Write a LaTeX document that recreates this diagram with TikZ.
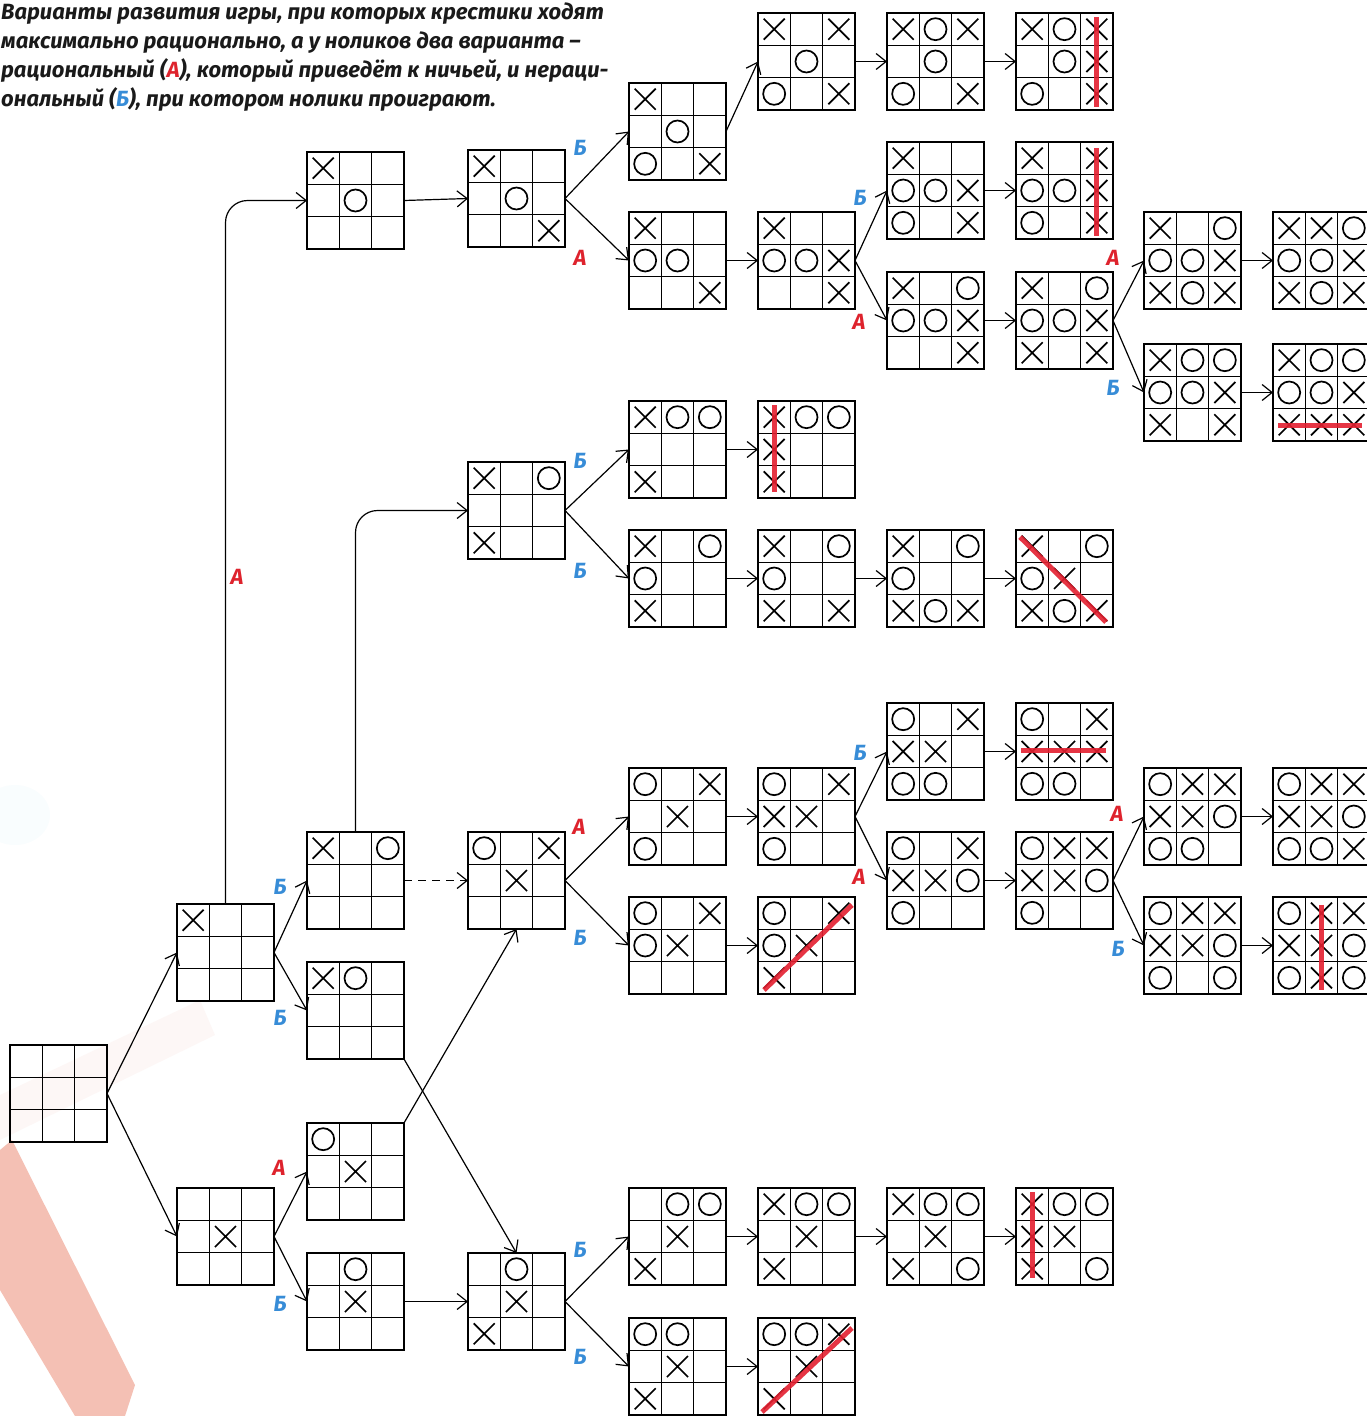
\documentclass[tikz,border=0pt]{standalone}
\usepackage{fontspec}
\setmainfont{Fira Sans}
\usetikzlibrary{arrows.meta}
\definecolor{lblred}{RGB}{222,35,45}
\definecolor{lblblue}{RGB}{55,140,215}
\definecolor{winred}{RGB}{228,32,48}
\definecolor{ghost}{RGB}{238,150,130}
\definecolor{txt}{RGB}{26,26,26}
\def\symX{X}
\def\symO{O}
\tikzset{
  bnode/.style={draw=black, line width=1.4pt, minimum width=97pt, minimum height=97pt, inner sep=0pt, outer sep=0pt},
  gridln/.style={line width=1.3pt},
  sym/.style={line width=1.7pt},
  arr/.style={line width=1.2pt, -{Straight Barb[length=10pt,width=16pt]}},
  lab/.style={font=\bfseries\itshape\fontsize{22}{22}\selectfont, inner sep=0pt},
  labA/.style={lab, text=lblred},
  labB/.style={lab, text=lblblue},
  win/.style={line width=5pt, draw=winred, opacity=0.9}
}
\newcommand\tttboard[4]{%
  \node[bnode] (#1) at ({#2+48.5},{#3+48.5}) {};
  \draw[gridln] ({#2+32.33},#3) -- ({#2+32.33},{#3+97}) ({#2+64.67},#3) -- ({#2+64.67},{#3+97})
     (#2,{#3+32.33}) -- ({#2+97},{#3+32.33}) (#2,{#3+64.67}) -- ({#2+97},{#3+64.67});
  \foreach \sy [count=\bi from 0] in {#4} {
    \pgfmathtruncatemacro\brow{int(\bi/3)}
    \pgfmathtruncatemacro\bcol{mod(\bi,3)}
    \pgfmathsetmacro\bcx{#2+16.17+32.33*\bcol}
    \pgfmathsetmacro\bcy{#3+16.17+32.33*\brow}
    \ifx\sy\symX \draw[sym] (\bcx-10.5,\bcy-10.5) -- (\bcx+10.5,\bcy+10.5) (\bcx-10.5,\bcy+10.5) -- (\bcx+10.5,\bcy-10.5); \fi
    \ifx\sy\symO \draw[sym] (\bcx,\bcy) circle[radius=11]; \fi
  }%
}
\begin{document}
\begin{tikzpicture}[x=1pt,y=-1pt]
\useasboundingbox (0,0) rectangle (1366,1416);
\fill[white] (0,0) rectangle (1366,1416);
% faint background decoration
\fill[ghost, opacity=0.07] (0,1095) -- (200,1000) -- (215,1035) -- (0,1140) -- cycle;
\fill[ghost, opacity=0.6] (0,1150) -- (12,1140) -- (135,1385) -- (125,1416) -- (75,1416) -- (0,1290) -- cycle;
\fill[cyan, opacity=0.025] (15,815) ellipse[x radius=35, y radius=30];

% caption
\node[anchor=north west, align=left, inner sep=0pt, text=txt,
      font=\bfseries\itshape\fontsize{22}{29}\selectfont] (title) at (1,3)
 {Варианты развития игры, при которых крестики ходят\\
  максимально рационально, а у ноликов два варианта –\\
  рациональный (\textcolor{lblred}{А}), который приведёт к ничьей, и нераци-\\
  ональный (\textcolor{lblblue}{Б}), при котором нолики проиграют.};

% boards
\tttboard{E}{10}{1045}{-,-,-,-,-,-,-,-,-}
\tttboard{B1}{177}{904}{X,-,-,-,-,-,-,-,-}
\tttboard{B2}{177}{1188}{-,-,-,-,X,-,-,-,-}
\tttboard{C1}{307}{152}{X,-,-,-,O,-,-,-,-}
\tttboard{C2}{307}{832}{X,-,O,-,-,-,-,-,-}
\tttboard{C3}{307}{962}{X,O,-,-,-,-,-,-,-}
\tttboard{C4}{307}{1123}{O,-,-,-,X,-,-,-,-}
\tttboard{C5}{307}{1253}{-,O,-,-,X,-,-,-,-}
\tttboard{D1}{468}{150}{X,-,-,-,O,-,-,-,X}
\tttboard{D2}{468}{462}{X,-,O,-,-,-,X,-,-}
\tttboard{D3}{468}{832}{O,-,X,-,X,-,-,-,-}
\tttboard{D4}{468}{1253}{-,O,-,-,X,-,X,-,-}
\tttboard{E1}{629}{83}{X,-,-,-,O,-,O,-,X}
\tttboard{E2}{629}{212}{X,-,-,O,O,-,-,-,X}
\tttboard{E3}{629}{401}{X,O,O,-,-,-,X,-,-}
\tttboard{E4}{629}{530}{X,-,O,O,-,-,X,-,-}
\tttboard{E5}{629}{768}{O,-,X,-,X,-,O,-,-}
\tttboard{E6}{629}{897}{O,-,X,O,X,-,-,-,-}
\tttboard{E7}{629}{1188}{-,O,O,-,X,-,X,-,-}
\tttboard{E8}{629}{1318}{O,O,-,-,X,-,X,-,-}
\tttboard{F1}{758}{13}{X,-,X,-,O,-,O,-,X}
\tttboard{F2}{758}{212}{X,-,-,O,O,X,-,-,X}
\tttboard{F3}{758}{401}{X,O,O,X,-,-,X,-,-}
\tttboard{F4}{758}{530}{X,-,O,O,-,-,X,-,X}
\tttboard{F5}{758}{768}{O,-,X,X,X,-,O,-,-}
\tttboard{F6}{758}{897}{O,-,X,O,X,-,X,-,-}
\tttboard{F7}{758}{1188}{X,O,O,-,X,-,X,-,-}
\tttboard{F8}{758}{1318}{O,O,X,-,X,-,X,-,-}
\tttboard{G1}{887}{13}{X,O,X,-,O,-,O,-,X}
\tttboard{G2}{887}{142}{X,-,-,O,O,X,O,-,X}
\tttboard{G3}{887}{272}{X,-,O,O,O,X,-,-,X}
\tttboard{G4}{887}{530}{X,-,O,O,-,-,X,O,X}
\tttboard{G5}{887}{703}{O,-,X,X,X,-,O,O,-}
\tttboard{G6}{887}{832}{O,-,X,X,X,O,O,-,-}
\tttboard{G7}{887}{1188}{X,O,O,-,X,-,X,-,O}
\tttboard{H1}{1016}{13}{X,O,X,-,O,X,O,-,X}
\tttboard{H2}{1016}{142}{X,-,X,O,O,X,O,-,X}
\tttboard{H3}{1016}{272}{X,-,O,O,O,X,X,-,X}
\tttboard{H4}{1016}{530}{X,-,O,O,X,-,X,O,X}
\tttboard{H5}{1016}{703}{O,-,X,X,X,X,O,O,-}
\tttboard{H6}{1016}{832}{O,X,X,X,X,O,O,-,-}
\tttboard{H7}{1016}{1188}{X,O,O,X,X,-,X,-,O}
\tttboard{I1}{1144}{212}{X,-,O,O,O,X,X,O,X}
\tttboard{I2}{1144}{344}{X,O,O,O,O,X,X,-,X}
\tttboard{I3}{1144}{768}{O,X,X,X,X,O,O,O,-}
\tttboard{I4}{1144}{897}{O,X,X,X,X,O,O,-,O}
\tttboard{J1}{1273}{212}{X,X,O,O,O,X,X,O,X}
\tttboard{J2}{1273}{344}{X,O,O,O,O,X,X,X,X}
\tttboard{J3}{1273}{768}{O,X,X,X,X,O,O,O,X}
\tttboard{J4}{1273}{897}{O,X,X,X,X,O,O,X,O}

% winning lines
\draw[win] (1096,17) -- (1096,107);
\draw[win] (1096,148) -- (1096,236);
\draw[win] (774,405) -- (774,492);
\draw[win] (1020,537) -- (1106,622);
\draw[win] (1021,750) -- (1106,750);
\draw[win] (1278,425) -- (1362,425);
\draw[win] (764,990) -- (852,905);
\draw[win] (762,1412) -- (852,1328);
\draw[win] (1032,1192) -- (1032,1278);
\draw[win] (1321,905) -- (1321,990);

% connectors
\draw[arr] (E.east) -- (B1.west);
\draw[arr] (E.east) -- (B2.west);
\draw[arr] (B1.east) -- (C2.west);
\draw[arr] (B1.east) -- (C3.west);
\draw[arr] (B2.east) -- (C4.west);
\draw[arr] (B2.east) -- (C5.west);
\draw[arr, rounded corners=22pt] (B1.north) |- (C1.west);
\draw[arr, rounded corners=22pt] (C2.north) |- (D2.west);
\draw[arr, dash pattern=on 8pt off 6pt] (C2.east) -- (D3.west);
\draw[arr] (C3.south east) -- (D4.north);
\draw[arr] (C4.north east) -- (D3.south);
\draw[arr] (C5.east) -- (D4.west);
\draw[arr] (C1.east) -- (D1.west);
\draw[arr] (D1.east) -- (E1.west);
\draw[arr] (D1.east) -- (E2.west);
\draw[arr] (E1.east) -- (F1.west);
\draw[arr] (F1.east) -- (G1.west);
\draw[arr] (G1.east) -- (H1.west);
\draw[arr] (E2.east) -- (F2.west);
\draw[arr] (F2.east) -- (G2.west);
\draw[arr] (F2.east) -- (G3.west);
\draw[arr] (G2.east) -- (H2.west);
\draw[arr] (G3.east) -- (H3.west);
\draw[arr] (H3.east) -- (I1.west);
\draw[arr] (H3.east) -- (I2.west);
\draw[arr] (I1.east) -- (J1.west);
\draw[arr] (I2.east) -- (J2.west);
\draw[arr] (D2.east) -- (E3.west);
\draw[arr] (D2.east) -- (E4.west);
\draw[arr] (E3.east) -- (F3.west);
\draw[arr] (E4.east) -- (F4.west);
\draw[arr] (F4.east) -- (G4.west);
\draw[arr] (G4.east) -- (H4.west);
\draw[arr] (D3.east) -- (E5.west);
\draw[arr] (D3.east) -- (E6.west);
\draw[arr] (E5.east) -- (F5.west);
\draw[arr] (E6.east) -- (F6.west);
\draw[arr] (F5.east) -- (G5.west);
\draw[arr] (F5.east) -- (G6.west);
\draw[arr] (G5.east) -- (H5.west);
\draw[arr] (G6.east) -- (H6.west);
\draw[arr] (H6.east) -- (I3.west);
\draw[arr] (H6.east) -- (I4.west);
\draw[arr] (I3.east) -- (J3.west);
\draw[arr] (I4.east) -- (J4.west);
\draw[arr] (D4.east) -- (E7.west);
\draw[arr] (D4.east) -- (E8.west);
\draw[arr] (E7.east) -- (F7.west);
\draw[arr] (F7.east) -- (G7.west);
\draw[arr] (G7.east) -- (H7.west);
\draw[arr] (E8.east) -- (F8.west);

% branch labels
\node[labA] (lA0) at (237,577) {А};
\node[labB] (l1) at (280,887) {Б};
\node[labB] (l2) at (280,1018) {Б};
\node[labA] (l3) at (279,1168) {А};
\node[labB] (l4) at (280,1304) {Б};
\node[labB] (l5) at (580,148) {Б};
\node[labA] (l6) at (580,258) {А};
\node[labB] (l7) at (860,198) {Б};
\node[labA] (l8) at (859,322) {А};
\node[labA] (l9) at (1113,258) {А};
\node[labB] (l10) at (1113,388) {Б};
\node[labB] (l11) at (580,461) {Б};
\node[labB] (l12) at (580,571) {Б};
\node[labA] (l13) at (579,827) {А};
\node[labB] (l14) at (580,938) {Б};
\node[labB] (l15) at (860,753) {Б};
\node[labA] (l16) at (859,877) {А};
\node[labA] (l17) at (1117,814) {А};
\node[labB] (l18) at (1118,949) {Б};
\node[labB] (l19) at (580,1250) {Б};
\node[labB] (l20) at (580,1357) {Б};
\end{tikzpicture}
\end{document}
